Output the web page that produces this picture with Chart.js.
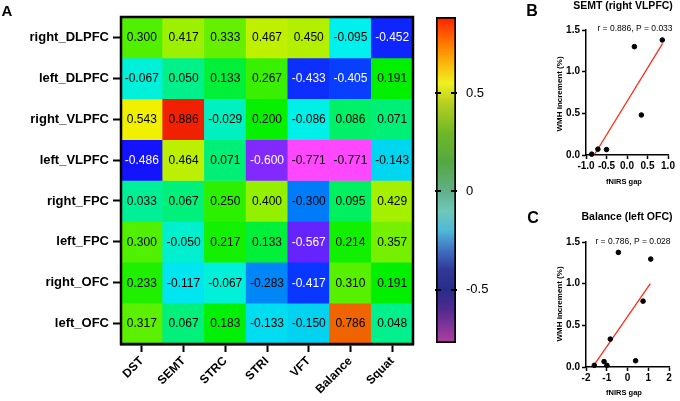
<!DOCTYPE html>
<html><head><meta charset="utf-8">
<script src="https://cdn.jsdelivr.net/npm/chart.js@4"></script>
<style>
html,body{margin:0;padding:0;background:#fff;}
body{width:680px;height:401px;position:relative;overflow:hidden;}
.box{position:absolute;}
</style></head><body>
<div class="box" style="left:0;top:0;width:415px;height:401px"><canvas id="heat"></canvas></div>
<div class="box" style="left:420px;top:0;width:80px;height:401px"><canvas id="cbar"></canvas></div>
<div class="box" style="left:480px;top:0;width:200px;height:200px"><canvas id="scB"></canvas></div>
<div class="box" style="left:480px;top:200px;width:200px;height:201px"><canvas id="scC"></canvas></div>
<script>
// ---- data ----
const columns = ['DST','SEMT','STRC','STRI','VFT','Balance','Squat'];
const regions = ['right_DLPFC','left_DLPFC','right_VLPFC','left_VLPFC','right_FPC','left_FPC','right_OFC','left_OFC'];
const right_DLPFC = [0.300, 0.417, 0.333, 0.467, 0.450, -0.095, -0.452];
const left_DLPFC  = [-0.067, 0.050, 0.133, 0.267, -0.433, -0.405, 0.191];
const right_VLPFC = [0.543, 0.886, -0.029, 0.200, -0.086, 0.086, 0.071];
const left_VLPFC  = [-0.486, 0.464, 0.071, -0.600, -0.771, -0.771, -0.143];
const right_FPC   = [0.033, 0.067, 0.250, 0.400, -0.300, 0.095, 0.429];
const left_FPC    = [0.300, -0.050, 0.217, 0.133, -0.567, 0.214, 0.357];
const right_OFC   = [0.233, -0.117, -0.067, -0.283, -0.417, 0.310, 0.191];
const left_OFC    = [0.317, 0.067, 0.183, -0.133, -0.150, 0.786, 0.048];
const heatRows = [right_DLPFC, left_DLPFC, right_VLPFC, left_VLPFC, right_FPC, left_FPC, right_OFC, left_OFC];

const colorMin = -0.771, colorMax = 0.886;
const colorbarTicks = [-0.5, 0, 0.5];

const semtGapX = [-0.86, -0.71, -0.50, 0.18, 0.35, 0.86];
const semtWmhY = [0.01, 0.07, 0.065, 1.30, 0.48, 1.38];
const semtFitX = [-0.80, 0.87];
const semtFitY = [0.0, 1.34];
const semtTicksX = [-1.0, -0.5, 0.0, 0.5, 1.0];

const balGapX = [-1.60, -1.13, -0.99, -0.83, -0.44, 0.39, 0.75, 1.12];
const balWmhY = [0.02, 0.065, 0.02, 0.335, 1.375, 0.075, 0.79, 1.295];
const balFitX = [-1.65, 1.10];
const balFitY = [0.01, 1.0];
const balTicksX = [-2, -1, 0, 1, 2];

const wmhTicksY = [0.0, 0.5, 1.0, 1.5];

// ---- styles ----
const FAM = "'Liberation Sans', Arial, Helvetica, sans-serif";
Chart.defaults.font.family = FAM;
Chart.defaults.color = '#000';
Chart.defaults.animation = false;
Chart.defaults.plugins.legend.display = false;
Chart.defaults.plugins.tooltip.enabled = false;

// value -> hue stops of the cell colour scale
const hueStops = [[0.886,8],[0.786,25],[0.543,60],[0.3,100],[0.191,120],[0.05,155],[-0.1,180],[-0.3,210],[-0.486,240],[-0.6,265],[-0.771,300]];
function cellColor(v){
  let h = hueStops[0][1];
  for (let k=0;k<hueStops.length-1;k++){
    const [v0,h0]=hueStops[k],[v1,h1]=hueStops[k+1];
    if (v<=v0 && v>=v1){ h = h0 + (h1-h0)*(v0-v)/(v0-v1); break; }
    if (v<hueStops[hueStops.length-1][0]) h = 300;
  }
  const l = h <= 200 ? 47 : 47 + (h - 200) * 0.17;
  return `hsl(${h.toFixed(1)},100%,${l.toFixed(1)}%)`;
}
const barStops = [
  [0.886,'#ff2000'],[0.75,'#ff7a00'],[0.62,'#f8c810'],[0.55,'#f0f020'],[0.45,'#b8d020'],
  [0.3,'#70b828'],[0.15,'#55a840'],[0.0,'#60b088'],[-0.1,'#70c8b8'],[-0.2,'#50b8d8'],
  [-0.3,'#4070c0'],[-0.4,'#303898'],[-0.5,'#282c88'],[-0.6,'#502a90'],[-0.771,'#b040a0']
];

const textPlugin = {
  id:'extraText',
  afterDraw(chart, args, opts){
    const ctx = chart.ctx;
    (opts.items||[]).forEach(it=>{
      ctx.save();
      ctx.font = it.font;
      ctx.fillStyle = '#000';
      ctx.textAlign = 'center';
      ctx.textBaseline = 'middle';
      ctx.translate(it.x, it.y);
      if (it.rot) ctx.rotate(it.rot);
      ctx.fillText(it.text, 0, 0);
      ctx.restore();
    });
  }
};

// ---- heatmap ----
const cellText = {
  id:'cellText',
  afterDatasetsDraw(chart){
    const ctx = chart.ctx;
    ctx.save();
    ctx.font = '12px ' + FAM;
    ctx.textAlign = 'center';
    ctx.textBaseline = 'middle';
    chart.data.datasets.forEach((ds,i)=>{
      chart.getDatasetMeta(i).data.forEach((el,j)=>{
        const v = ds.values[j];
        ctx.fillStyle = (v <= -0.4 && v > -0.7) ? '#fff' : '#000';
        ctx.fillText(v.toFixed(3), el.x, (el.y + el.base)/2 + 0.5);
      });
    });
    ctx.restore();
  }
};
const frame = {
  id:'frame',
  afterDraw(chart){
    const a = chart.chartArea, ctx = chart.ctx;
    ctx.save(); ctx.strokeStyle='#000'; ctx.lineWidth=2.5;
    ctx.strokeRect(a.left, a.top, a.right-a.left, a.bottom-a.top);
    ctx.restore();
  }
};

new Chart(document.getElementById('heat'), {
  type:'bar',
  data:{
    labels: columns,
    datasets: heatRows.map((vals,i)=>({
      label: regions[i],
      values: vals,
      data: vals.map(()=>[7-i, 8-i]),
      backgroundColor: vals.map(cellColor),
      borderWidth: 0,
      barPercentage: 1, categoryPercentage: 1,
      grouped: false
    }))
  },
  options:{
    responsive:true, maintainAspectRatio:false, devicePixelRatio:1,
    layout:{padding:{top:17,right:2,left:0,bottom:0}},
    scales:{
      x:{
        type:'category', offset:true,
        grid:{display:true, drawOnChartArea:false, drawTicks:true, tickLength:8, tickWidth:2, tickColor:'#000', offset:false},
        border:{display:true, color:'#000', width:2.5},
        ticks:{autoSkip:false, maxRotation:45, minRotation:45, font:{size:12, weight:'bold'}, color:'#000', padding:2},
        afterFit(s){ s.height = 57; }
      },
      y:{
        type:'linear', min:0, max:8,
        afterBuildTicks(s){ s.ticks = regions.map((_,i)=>({value:7.5-i})); },
        grid:{display:true, drawOnChartArea:false, drawTicks:true, tickLength:8, tickWidth:2, tickColor:'#000'},
        border:{display:true, color:'#000', width:2.5},
        ticks:{callback:(v)=>regions[Math.round(7.5-v)], font:{size:13, weight:'bold'}, color:'#000', padding:4},
        afterFit(s){ s.width = 121; }
      }
    },
    plugins:{ extraText:{items:[{text:'A', x:7, y:12, font:'bold 15px '+FAM}]} }
  },
  plugins:[cellText, frame, textPlugin]
});

// ---- colorbar ----
const cbarMarks = {
  id:'cbarMarks',
  afterDatasetsDraw(chart){
    const a = chart.chartArea, ctx = chart.ctx, y = chart.scales.y;
    ctx.save(); ctx.strokeStyle='#000'; ctx.lineWidth=2;
    colorbarTicks.forEach(v=>{
      const py = Math.round(y.getPixelForValue(v));
      ctx.beginPath();
      ctx.moveTo(a.left-1, py); ctx.lineTo(a.left+5, py);
      ctx.moveTo(a.right-5, py); ctx.lineTo(a.right+1, py);
      ctx.stroke();
    });
    ctx.restore();
  }
};
new Chart(document.getElementById('cbar'), {
  type:'bar',
  data:{ labels:[''], datasets:[{
    data:[[colorMin, colorMax]],
    backgroundColor:(c)=>{
      const ch = c.chart; if(!ch.chartArea) return '#888';
      const y = ch.scales.y;
      const g = ch.ctx.createLinearGradient(0, y.getPixelForValue(colorMax), 0, y.getPixelForValue(colorMin));
      barStops.forEach(([v,col])=>g.addColorStop((colorMax-v)/(colorMax-colorMin), col));
      return g;
    },
    borderColor:'#000', borderWidth:2, borderSkipped:false,
    barPercentage:1, categoryPercentage:1
  }]},
  options:{
    responsive:true, maintainAspectRatio:false, devicePixelRatio:1,
    layout:{padding:{top:17,bottom:58,left:16,right:0}},
    scales:{
      x:{display:false},
      y:{
        position:'right', min:colorMin, max:colorMax,
        afterBuildTicks(s){ s.ticks = colorbarTicks.map(v=>({value:v})); },
        ticks:{callback:(v)=>String(v), font:{size:13}, color:'#000', padding:2},
        grid:{display:false}, border:{display:false},
        afterFit(s){ s.width = 44; }
      }
    }
  },
  plugins:[cbarMarks]
});

// ---- scatter panels ----
function scatterPanel(id, xs, ys, fx, fy, xTicks, dec, pad, xH, texts){
  const axisCommon = {
    grid:{display:true, drawOnChartArea:false, drawTicks:true, tickLength:4, tickWidth:1.5, tickColor:'#000'},
    border:{display:true, color:'#000', width:1.5}
  };
  new Chart(document.getElementById(id), {
    type:'scatter',
    data:{ datasets:[
      { data: xs.map((x,i)=>({x, y:ys[i]})), backgroundColor:'#000', borderColor:'#000', pointRadius:2.3, clip:false },
      { data: fx.map((x,i)=>({x, y:fy[i]})), showLine:true, borderColor:'#ff2a1a', borderWidth:1.3, pointRadius:0, clip:false }
    ]},
    options:{
      responsive:true, maintainAspectRatio:false, devicePixelRatio:1,
      layout:{padding:pad},
      scales:{
        x:Object.assign({type:'linear', min:xTicks[0], max:xTicks[xTicks.length-1],
          afterBuildTicks(s){ s.ticks = xTicks.map(v=>({value:v})); },
          ticks:{callback:(v)=>dec? v.toFixed(1) : String(v), font:{size:10, weight:'bold'}, color:'#000', padding:1, maxRotation:0},
          afterFit(s){ s.height = xH; }
        }, axisCommon),
        y:Object.assign({type:'linear', min:0, max:1.5,
          afterBuildTicks(s){ s.ticks = wmhTicksY.map(v=>({value:v})); },
          ticks:{callback:(v)=>v.toFixed(1), font:{size:10, weight:'bold'}, color:'#000', padding:2},
          afterFit(s){ s.width = 106; }
        }, axisCommon)
      },
      plugins:{ extraText:{items:texts} }
    },
    plugins:[textPlugin]
  });
}
scatterPanel('scB', semtGapX, semtWmhY, semtFitX, semtFitY, semtTicksX, true,
  {top:30,right:12,left:0,bottom:0}, 45, [
    {text:'B', x:52, y:12, font:'bold 16px '+FAM},
    {text:'SEMT (right VLPFC)', x:143, y:6, font:'bold 10.5px '+FAM},
    {text:'r = 0.886, P = 0.033', x:155, y:29, font:'8.5px '+FAM},
    {text:'fNIRS gap', x:144, y:182, font:'bold 7.5px '+FAM},
    {text:'WMH increment (%)', x:80, y:94, font:'bold 8px '+FAM, rot:-Math.PI/2}
  ]);
scatterPanel('scC', balGapX, balWmhY, balFitX, balFitY, balTicksX, false,
  {top:42,right:11,left:0,bottom:0}, 34, [
    {text:'C', x:53, y:18.5, font:'bold 16px '+FAM},
    {text:'Balance (left OFC)', x:147, y:17, font:'bold 10.5px '+FAM},
    {text:'r = 0.786, P = 0.028', x:153, y:42, font:'8.5px '+FAM},
    {text:'fNIRS gap', x:144, y:193, font:'bold 7.5px '+FAM},
    {text:'WMH increment (%)', x:80, y:104, font:'bold 8px '+FAM, rot:-Math.PI/2}
  ]);
</script>
</body></html>
